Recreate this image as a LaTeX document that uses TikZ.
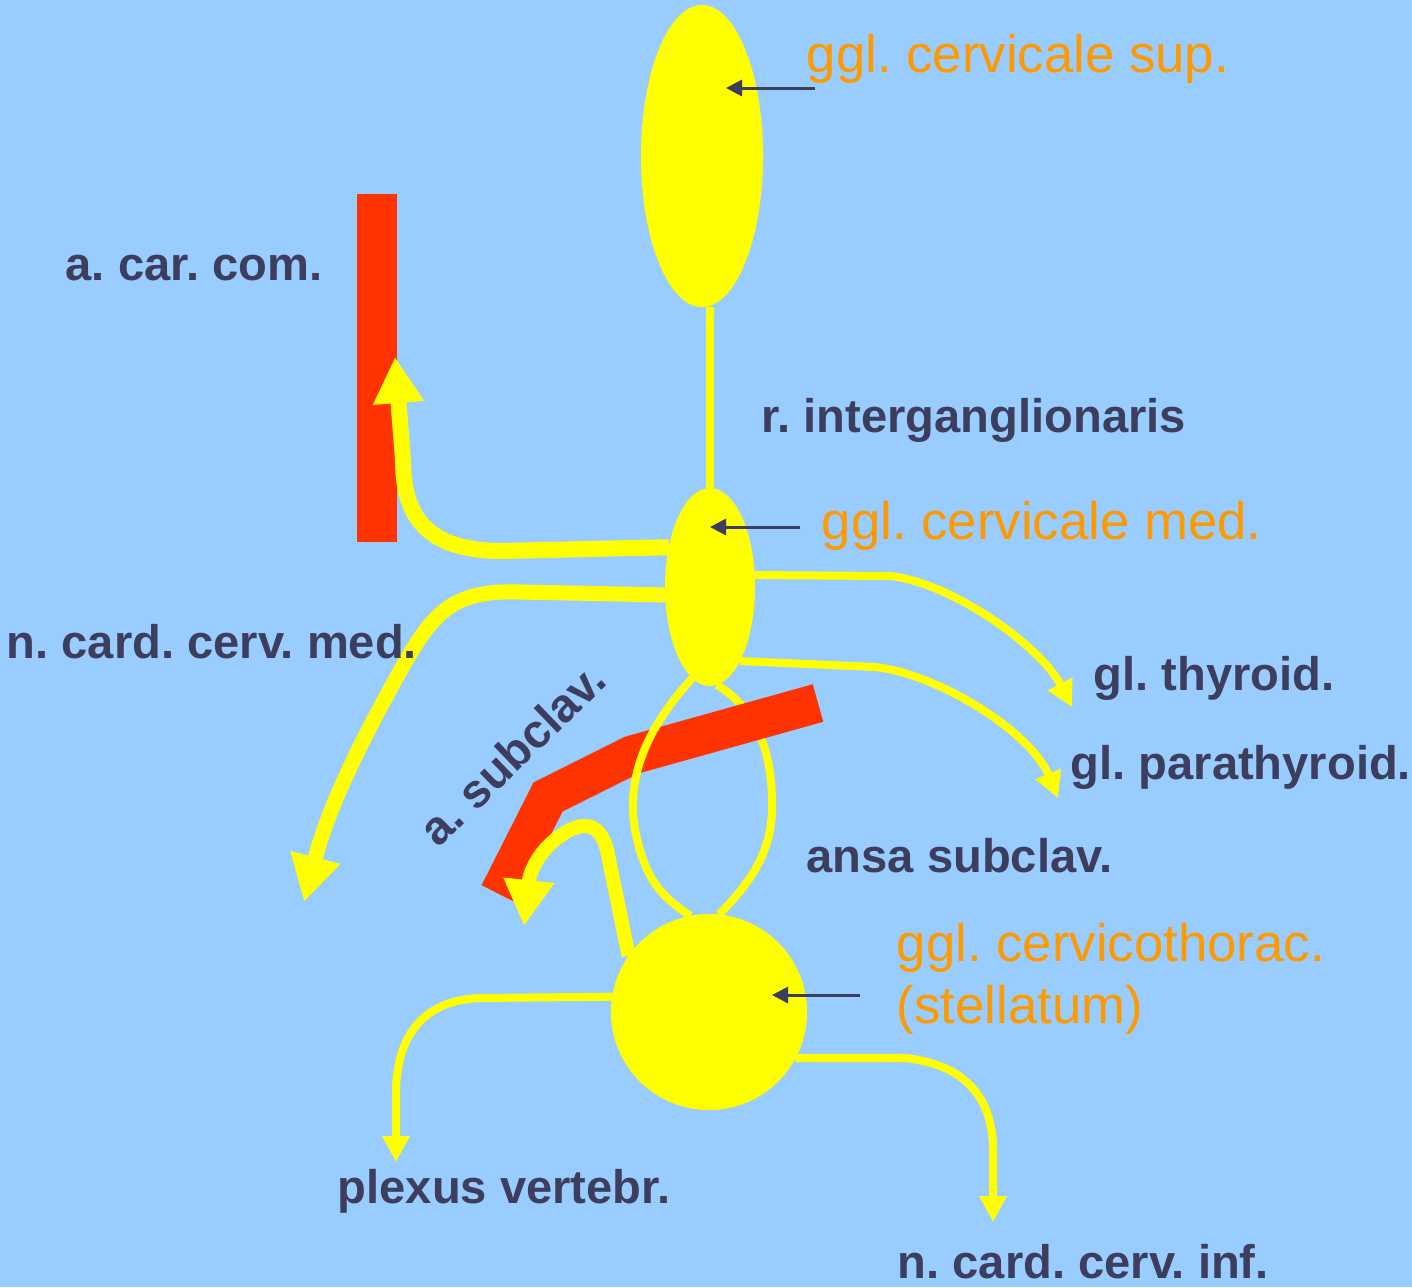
\documentclass[tikz,border=0pt]{standalone}
\usepackage{fontspec}
\setmainfont{Liberation Sans}
\usetikzlibrary{shapes.geometric,arrows.meta}
\definecolor{bgblue}{HTML}{99CCFF}
\definecolor{gyellow}{HTML}{FFFF00}
\definecolor{artred}{HTML}{FF3300}
\definecolor{labdark}{HTML}{3D3D5E}
\definecolor{labor}{HTML}{FF9900}
\pgfdeclarelayer{back}
\pgfdeclarelayer{loop}
\pgfdeclarelayer{artery}
\pgfdeclarelayer{nerve}
\pgfsetlayers{back,loop,artery,nerve,main}
\tikzset{
  ganglion/.style={ellipse, fill=gyellow, draw=none, inner sep=0pt, outer sep=0pt},
  thicknerve/.style={draw=gyellow, line width=0.16cm, -{Triangle[width=0.48cm,length=0.46cm]}},
  thinnerve/.style={draw=gyellow, line width=0.08cm, -{Triangle[width=0.26cm,length=0.26cm]}},
  plainnerve/.style={draw=gyellow, line width=0.08cm},
  artery/.style={draw=artred, line width=0.39cm},
  pointer/.style={draw=labdark, line width=0.03cm, -{Triangle[width=0.16cm,length=0.16cm]}},
  darklabel/.style={anchor=base west, inner sep=0pt, text=labdark, font=\fontsize{13.4}{16}\selectfont\bfseries},
  orlabel/.style={anchor=base west, inner sep=0pt, text=labor, font=\fontsize{15}{18}\selectfont, align=left},
}
\frenchspacing
\begin{document}
\frenchspacing
\begin{tikzpicture}[x=0.01cm, y=-0.01cm]
\useasboundingbox (0,0) rectangle (1412,1287);
\begin{pgfonlayer}{back}
  \fill[bgblue] (0,0) rectangle (1412,1287);
\end{pgfonlayer}

% ganglia
\node[ganglion, minimum width=1.22cm, minimum height=3.02cm] (sup) at (702,156) {};
\node[ganglion, minimum width=0.90cm, minimum height=1.98cm] (med) at (710,587) {};
\node[ganglion, minimum width=1.96cm, minimum height=1.96cm] (stel) at (709,1012) {};

% arteries
\begin{pgfonlayer}{artery}
  \node[fill=artred, inner sep=0pt, minimum width=0.40cm, minimum height=3.48cm] (carotis) at (377,368) {};
  \coordinate (sc1) at (818,703);
  \coordinate (sc2) at (632,755);
  \coordinate (sc3) at (548,797);
  \coordinate (sc4) at (499,894);
  \draw[artery, line join=miter] (sc1) -- (sc2) -- (sc3) -- (sc4);
\end{pgfonlayer}

% nerves
\begin{pgfonlayer}{nerve}
  \draw[plainnerve] (sup.south -| med.north) -- (med.north);
  % to a. carotis
  \draw[thicknerve] (med.136) -- (500,551) .. controls (430,550) and (403,520) .. (403,460) -- (395,357);
  % n. card. cerv. med.
  \draw[thicknerve, line width=0.15cm] (med.190) -- (520,592) .. controls (455,590) and (435,610) .. (404,664) .. controls (370,725) and (330,800) .. (304,902);
  % to a. subclavia
  \draw[thicknerve, line width=0.14cm] (stel.145) -- (607,850) .. controls (600,822) and (582,820) .. (560,836) .. controls (540,850) and (530,870) .. (524,926);
  % gl. thyroid.
  \draw[thinnerve] (med.15) -- (890,576) .. controls (950,582) and (1040,645) .. (1072,707);
  % gl. parathyroid.
  \draw[thinnerve] (med.-68) -- (875,667) .. controls (935,673) and (1030,730) .. (1058,798);
  % ansa subclavia, front limb
  \draw[plainnerve] (med.-101) .. controls (652,722) and (625,772) .. (635,830) .. controls (645,880) and (662,897) .. (stel.101);
  % plexus vertebr.
  \draw[thinnerve] (stel.171) -- (480,998) .. controls (420,1000) and (397,1040) .. (396,1090) -- (396,1162);
  % n. card. cerv. inf.
  \draw[thinnerve] (stel.-28) -- (905,1058) .. controls (962,1064) and (993,1095) .. (993,1150) -- (993,1222);
\end{pgfonlayer}
\begin{pgfonlayer}{loop}
  % ansa subclavia, back limb
  \draw[plainnerve] (med.-86) .. controls (762,712) and (773,762) .. (772,810) .. controls (771,860) and (742,890) .. (stel.84);
\end{pgfonlayer}

% pointers
\coordinate (p1s) at (815,88);  \coordinate (p1e) at (726,88);
\coordinate (p2s) at (800,527); \coordinate (p2e) at (710,527);
\coordinate (p3s) at (860,995); \coordinate (p3e) at (772,995);
\draw[pointer] (p1s) -- (p1e);
\draw[pointer] (p2s) -- (p2e);
\draw[pointer] (p3s) -- (p3e);

% labels
\node[orlabel] (lsup) at (806,72) {ggl. cervicale sup.};
\node[orlabel] (lmed) at (821,539) {ggl. cervicale med.};
\node[orlabel] (lstel) at (896,961) {ggl. cervicothorac.};
\node[orlabel] (lstel2) at (896,1023) {(stellatum)};
\node[darklabel] (lcar) at (65,280) {a. car. com.};
\node[darklabel] (lrint) at (761,432) {r. interganglionaris};
\node[darklabel] (lncm) at (6,658) {n. card. cerv. med.};
\node[darklabel] (lthy) at (1093,690) {gl. thyroid.};
\node[darklabel] (lpth) at (1070,779) {gl. parathyroid.};
\node[darklabel, rotate=44] (lsub) at (438,849) {a. subclav.};
\node[darklabel] (lansa) at (806,872) {ansa subclav.};
\node[darklabel] (lplex) at (337,1203) {plexus vertebr.};
\node[darklabel] (lnci) at (897,1278) {n. card. cerv. inf.};
\end{tikzpicture}
\end{document}
